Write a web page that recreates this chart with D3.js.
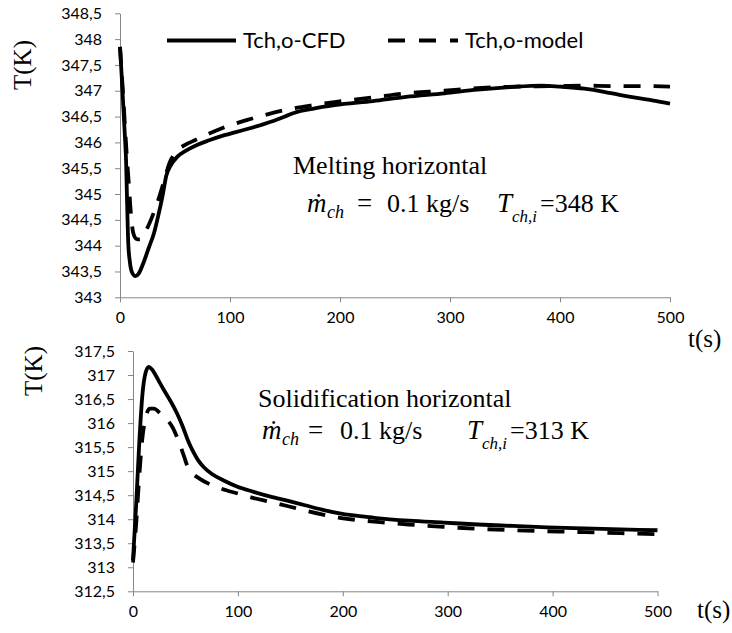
<!DOCTYPE html>
<html>
<head>
<meta charset="utf-8">
<script src="https://cdn.jsdelivr.net/npm/d3@7"></script>
<style>
  body { margin: 0; background: #fff; }
  svg { display: block; }
  .tick text { font-family: Lato, "Open Sans", sans-serif; font-size: 16px; fill: #000; }
  .axis path, .axis line { stroke: #868686; stroke-width: 1; }
  .serif { font-family: "Liberation Serif", "Times New Roman", serif; fill: #000; }
</style>
</head>
<body>
<div id="chart"></div>
<script>
// melting (top panel)
const meltCfdTime = [0, 1.5, 3, 4.5, 5.5, 6.5, 7.5, 9, 11, 14, 17, 21, 26, 31, 35, 39, 42, 46, 52, 60, 70, 81, 95, 114, 130, 140, 150, 158, 175, 195, 230, 260, 295, 325, 355, 383, 400, 422, 440, 454, 470, 485, 500];
const meltCfd = [347.85, 347.3, 346.7, 346.1, 345.66, 344.8, 344.05, 343.68, 343.48, 343.41, 343.46, 343.65, 343.95, 344.25, 344.6, 345.0, 345.35, 345.55, 345.72, 345.84, 345.95, 346.04, 346.14, 346.25, 346.35, 346.42, 346.5, 346.57, 346.65, 346.72, 346.8, 346.88, 346.95, 347.02, 347.07, 347.1, 347.08, 347.04, 346.98, 346.92, 346.86, 346.81, 346.75];
const meltModelTime = [0, 2, 4, 6, 8, 10, 12, 15, 18, 21, 25, 30, 35, 40, 45, 52, 60, 68, 80, 97, 115, 130, 153, 175, 195, 230, 260, 295, 325, 360, 390, 420, 450, 475, 500];
const meltModel = [347.85, 347.2, 346.5, 345.8, 345.2, 344.6, 344.25, 344.13, 344.12, 344.2, 344.35, 344.6, 344.9, 345.25, 345.6, 345.84, 345.96, 346.04, 346.16, 346.31, 346.43, 346.52, 346.64, 346.72, 346.78, 346.87, 346.95, 347.0, 347.05, 347.08, 347.09, 347.1, 347.09, 347.09, 347.08];

// solidification (bottom panel)
const solidCfdTime = [0, 3, 6, 9, 12, 15, 18, 22, 26, 31, 36, 42, 47, 52, 57, 62, 68, 76, 87, 99, 115, 131, 148, 164, 180, 197, 230, 263, 296, 329, 362, 395, 430, 465, 500];
const solidCfd = [313.15, 314.3, 315.6, 316.6, 317.05, 317.17, 317.12, 316.98, 316.82, 316.63, 316.45, 316.2, 315.95, 315.66, 315.42, 315.23, 315.07, 314.93, 314.8, 314.68, 314.57, 314.47, 314.38, 314.29, 314.2, 314.12, 314.03, 313.97, 313.93, 313.89, 313.86, 313.83, 313.81, 313.79, 313.77];
const solidModelTime = [0, 3, 6, 9, 12, 16, 20, 26, 33, 38, 43, 48, 52, 57, 63, 72, 85, 99, 115, 131, 148, 164, 180, 197, 230, 263, 296, 329, 362, 395, 430, 465, 500];
const solidModel = [313.1, 313.9, 314.9, 315.7, 316.1, 316.3, 316.3, 316.2, 316.06, 315.9, 315.65, 315.35, 315.1, 314.95, 314.85, 314.74, 314.63, 314.54, 314.44, 314.36, 314.27, 314.18, 314.1, 314.03, 313.95, 313.89, 313.84, 313.8, 313.77, 313.75, 313.73, 313.71, 313.69];

const timeTicks = [0, 100, 200, 300, 400, 500];
const meltTempTicks = d3.range(343, 348.51, 0.5);
const solidTempTicks = d3.range(312.5, 317.51, 0.5);
const seriesNames = ["Tch,o-CFD", "Tch,o-model"];

const W = 732, H = 633;
const dash = "17,13";

const svg = d3.select("#chart").append("svg")
  .attr("width", W)
  .attr("height", H);

svg.append("rect").attr("width", W).attr("height", H).attr("fill", "#fff");

const fmt = v => d3.format("")(+v.toFixed(1)).replace(".", ",");

const panels = [
  {
    x0: 120, x1: 670, yTop: 13.3, yBottom: 297.3,
    domain: [343, 348.5], ticks: meltTempTicks,
    series: [[meltCfdTime, meltCfd], [meltModelTime, meltModel]],
    yLabel: { x: 31, y: 65 }, tLabel: { x: 688, y: 347 },
    title: "Melting horizontal", titlePos: { x: 293, y: 174 },
    formula: { y: 212, m: 307, eq: 357, num: 387, T: 497, sub: 512, eq2: 540, temp: "348" }
  },
  {
    x0: 133, x1: 657.5, yTop: 351, yBottom: 591.3,
    domain: [312.5, 317.5], ticks: solidTempTicks,
    series: [[solidCfdTime, solidCfd], [solidModelTime, solidModel]],
    yLabel: { x: 42, y: 371 }, tLabel: { x: 697, y: 618 },
    title: "Solidification horizontal", titlePos: { x: 258, y: 407 },
    formula: { y: 439, m: 262, eq: 308, num: 340, T: 467, sub: 482, eq2: 510, temp: "313" }
  }
];

panels.forEach(p => {
  const x = d3.scaleLinear().domain([0, 500]).range([p.x0, p.x1]);
  const y = d3.scaleLinear().domain(p.domain).range([p.yBottom, p.yTop]);
  const g = svg.append("g");

  g.append("g")
    .attr("class", "axis")
    .attr("transform", `translate(0,${p.yBottom})`)
    .call(d3.axisBottom(x).tickValues(timeTicks).tickSize(5).tickSizeOuter(0).tickPadding(9));

  g.append("g")
    .attr("class", "axis")
    .attr("transform", `translate(${p.x0},0)`)
    .call(d3.axisLeft(y).tickValues(p.ticks).tickFormat(fmt).tickSize(5).tickSizeOuter(0).tickPadding(13));

  const line = d3.line()
    .x(d => x(d[0]))
    .y(d => y(d[1]))
    .curve(d3.curveMonotoneX);

  p.series.forEach((s, i) => {
    const pts = s[0].map((t, k) => [t, s[1][k]]);
    g.append("path")
      .datum(pts)
      .attr("fill", "none")
      .attr("stroke", "#000")
      .attr("stroke-width", 3.8)
      .attr("stroke-linejoin", "round")
      .attr("stroke-dasharray", i === 1 ? dash : null)
      .attr("d", line);
  });

  g.append("text")
    .attr("class", "serif")
    .attr("transform", `translate(${p.yLabel.x},${p.yLabel.y}) rotate(-90)`)
    .attr("text-anchor", "middle")
    .style("font-size", "25px")
    .text("T(K)");

  g.append("text")
    .attr("class", "serif")
    .attr("x", p.tLabel.x)
    .attr("y", p.tLabel.y)
    .style("font-size", "25px")
    .text("t(s)");

  g.append("text")
    .attr("class", "serif")
    .attr("x", p.titlePos.x)
    .attr("y", p.titlePos.y)
    .style("font-size", "26px")
    .text(p.title);

  const f = p.formula;
  const put = (xx, dy, txt, size, italic) => g.append("text")
    .attr("class", "serif")
    .attr("x", xx)
    .attr("y", f.y + dy)
    .style("font-size", size + "px")
    .style("font-style", italic ? "italic" : "normal")
    .text(txt);
  put(f.m, 0, "ṁ", 27, true);
  put(f.m + 20, 6, "ch", 18, true);
  put(f.eq, 0, "=", 27, false);
  put(f.num, 0, "0.1 kg/s", 26, false);
  put(f.T, 0, "T", 27, true);
  put(f.sub, 10, "ch,i", 17, true);
  put(f.eq2, 0, "=" + f.temp + " K", 26, false);
});

// legend (top panel only)
const legend = svg.append("g");
const legendItems = [
  { x1: 167, x2: 236, tx: 243, dashed: false },
  { x1: 388, x2: 458, tx: 465, dashed: true }
];
legendItems.forEach((d, i) => {
  legend.append("line")
    .attr("x1", d.x1).attr("x2", d.x2)
    .attr("y1", 40.5).attr("y2", 40.5)
    .attr("stroke", "#000")
    .attr("stroke-width", 3.8)
    .attr("stroke-dasharray", d.dashed ? "17,14" : null);
  legend.append("text")
    .attr("x", d.tx)
    .attr("y", 48)
    .style("font-family", "Lato, 'Open Sans', sans-serif")
    .style("font-size", "22px")
    .text(seriesNames[i]);
});
</script>
</body>
</html>
